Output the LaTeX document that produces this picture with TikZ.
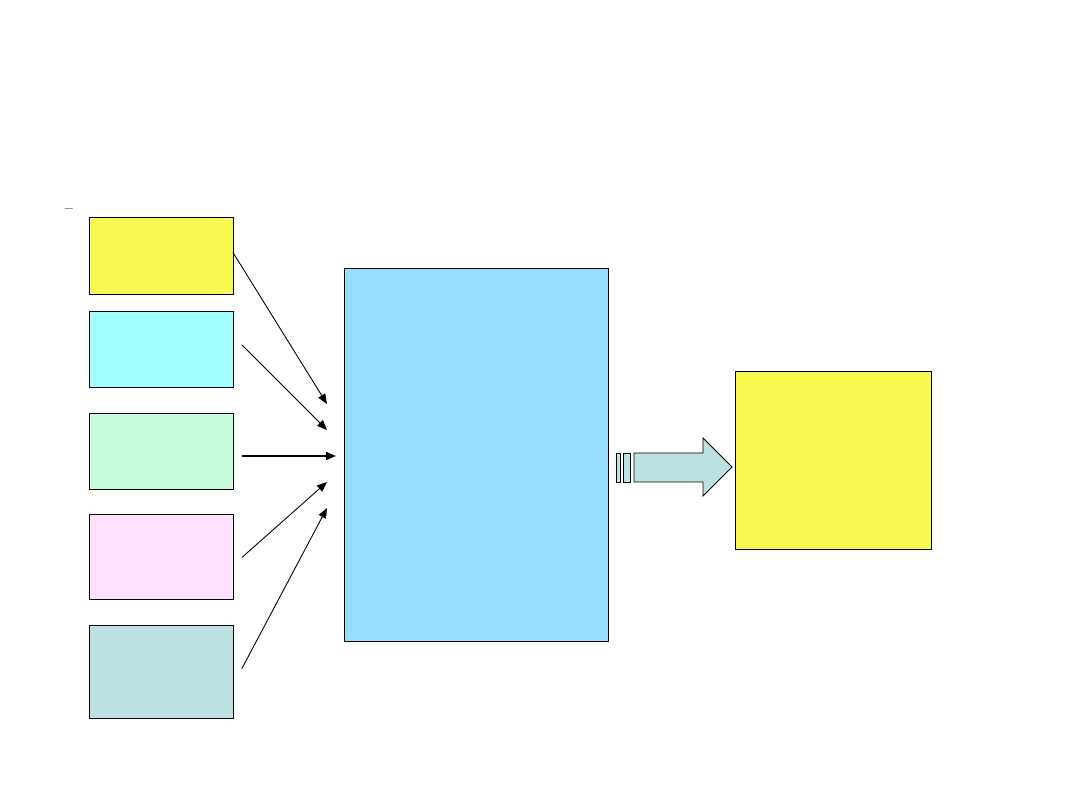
\documentclass[tikz,border=0pt]{standalone}
\usepackage{tikz}
\usetikzlibrary{positioning,arrows.meta,calc}
\definecolor{padyellow}{HTML}{F9F851}
\definecolor{padcyan}{HTML}{A0FFFF}
\definecolor{padgreen}{HTML}{C6FCDC}
\definecolor{padpink}{HTML}{FFE0FF}
\definecolor{padteal}{HTML}{BDE1E2}
\definecolor{padblue}{HTML}{96DEFF}

\begin{document}
\begin{tikzpicture}[
  x=0.02cm, y=-0.02cm,
  box/.style={draw, line width=0.5pt, inner sep=0pt, outer sep=0pt, minimum width=2.88cm},
  arr/.style={-{Triangle[length=2mm,width=1.6mm]}, line width=0.5pt},
  fat/.style={draw, line width=0.5pt, fill=padteal}
]
\useasboundingbox (0,0) rectangle (1080,810);

% inputs on the left
\node[font=\small] (mark) at (69,211) {--};
\node[box, fill=padyellow, minimum height=1.54cm, anchor=north west] (src1) at (89,217) {};
\node[box, fill=padcyan, minimum height=1.52cm, below=0.34cm of src1] (src2) {};
\node[box, fill=padgreen, minimum height=1.52cm, below=0.52cm of src2] (src3) {};
\node[box, fill=padpink, minimum height=1.70cm, below=0.52cm of src3] (src4) {};
\node[box, fill=padteal, minimum height=1.86cm, below=0.52cm of src4] (src5) {};

% centre and result
\node[box, fill=padblue, minimum width=5.28cm, minimum height=7.48cm, anchor=north west] (core) at (344,268) {};
\node[box, fill=padyellow, minimum width=3.92cm, minimum height=3.56cm, anchor=north west] (result) at (735,371) {};

\coordinate (in1) at (327,404);
\coordinate (in2) at (327,430);
\coordinate (in3) at (336,456);
\coordinate (in4) at (327,482);
\coordinate (in5) at (327,508);

\draw[arr] ($(src1.east)+(0,-3)$) -- (in1);
\draw[arr] ($(src2.east)+(9,-4)$) -- (in2);
\draw[arr, line width=1pt] ($(src3.east)+(9,5)$) -- (in3);
\draw[arr] ($(src4.east)+(9,0)$) -- (in4);
\draw[arr] ($(src5.east)+(9,-4)$) -- (in5);

% block arrow towards the result
\draw[fat] (616,453) rectangle (620,482);
\draw[fat] (623,453) rectangle (630,482);
\draw[fat] (634,453) -- (703,453) -- (703,438) -- (732,467) -- (703,496) -- (703,482) -- (634,482) -- cycle;
\end{tikzpicture}
\end{document}
